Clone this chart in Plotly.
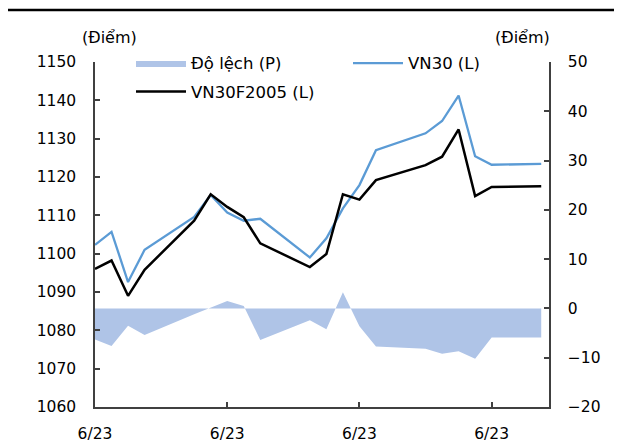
import plotly.graph_objects as go

# ---- data ----
x_idx = [0, 1, 2, 3, 6, 7, 8, 9, 10, 13, 14, 15, 16, 17, 20, 21, 22, 23, 24, 27]
vn30 = [1102.3, 1105.7, 1092.6, 1101.0, 1109.6, 1115.3, 1110.7, 1108.6, 1109.1, 1099.0,
        1104.0, 1111.8, 1117.9, 1127.0, 1131.4, 1134.6, 1141.25, 1125.4, 1123.2, 1123.4]
vn30f = [1096.0, 1098.2, 1089.0, 1095.8, 1108.6, 1115.5, 1112.2, 1109.5, 1102.7, 1096.5,
         1099.9, 1115.5, 1114.1, 1119.2, 1123.1, 1125.3, 1132.4, 1115.0, 1117.4, 1117.6]
do_lech = [-6.3, -7.6, -3.5, -5.4, -1.2, 0.2, 1.5, 0.5, -6.4, -2.4,
           -4.2, 3.3, -3.6, -7.7, -8.2, -9.2, -8.7, -10.2, -5.9, -5.9]
tick_pos = [0, 8, 16, 24]
tick_text = ["6/23", "6/23", "6/23", "6/23"]
left_ticks = [1060, 1070, 1080, 1090, 1100, 1110, 1120, 1130, 1140, 1150]
right_ticks = [-20, -10, 0, 10, 20, 30, 40, 50]

FONT = "DejaVu Sans"
AX = "#404040"

fig = go.Figure()
fig.add_trace(go.Scatter(
    x=x_idx, y=do_lech, name="Độ lệch (P)", mode="lines", fill="tozeroy",
    fillcolor="#AFC4E7", line=dict(width=0.01, color="#AFC4E7"), yaxis="y",
    legend="legend", showlegend=True))
fig.add_trace(go.Scatter(
    x=x_idx, y=vn30, name="VN30 (L)", mode="lines",
    line=dict(color="#5B9BD5", width=2.3), yaxis="y2", legend="legend2", showlegend=True))
fig.add_trace(go.Scatter(
    x=x_idx, y=vn30f, name="VN30F2005 (L)", mode="lines",
    line=dict(color="#000000", width=2.5), yaxis="y2", legend="legend3", showlegend=True))

# page body has an 8px margin: figure is drawn 8px right/down of the window corner
OFF = 8
W, H = 622 - OFF, 446 - OFF
L, R, T, B = 95 - OFF, 73, 62 - OFF, 39
pw, ph = W - L - R, H - T - B

def px_x(px):
    return (px - OFF - L) / pw

def px_y(py):
    return (H - B - (py - OFF)) / ph

leg_common = dict(font=dict(family=FONT, size=16.5, color="#000000"),
                  bgcolor="rgba(0,0,0,0)", borderwidth=0, itemwidth=50,
                  xanchor="left", yanchor="middle", visible=True)

fig.update_layout(
    width=W, height=H, showlegend=True,
    margin=dict(l=L, r=R, t=T, b=B, autoexpand=False),
    paper_bgcolor="white", plot_bgcolor="white",
    font=dict(family=FONT, size=15.5, color="#000000"),
    xaxis=dict(range=[0, 27.47], tickvals=tick_pos, ticktext=tick_text,
               showgrid=False, zeroline=False, showline=True, linecolor=AX, linewidth=1.5,
               ticks="inside", ticklen=5, tickcolor=AX, tickwidth=1.5,
               ticklabelstandoff=12, automargin=False),
    yaxis=dict(range=[-20, 50], tickvals=right_ticks, side="right",
               showgrid=False, zeroline=False, showline=True, linecolor=AX, linewidth=1.5,
               ticks="inside", ticklen=5, tickcolor=AX, tickwidth=1.5,
               ticklabelstandoff=14, automargin=False),
    yaxis2=dict(range=[1060, 1150], tickvals=left_ticks, side="left", overlaying="y",
                showgrid=False, zeroline=False, showline=True, linecolor=AX, linewidth=1.5,
                ticks="inside", ticklen=5, tickcolor=AX, tickwidth=1.5,
                ticklabelstandoff=14, automargin=False),
    legend=dict(x=px_x(131), y=px_y(63.3), **leg_common),
    legend2=dict(x=px_x(348), y=px_y(63.3), **leg_common),
    legend3=dict(x=px_x(131), y=px_y(91.7), **leg_common),
    shapes=[dict(type="line", xref="paper", yref="paper",
                 x0=px_x(4), x1=px_x(622), y0=px_y(10), y1=px_y(10),
                 line=dict(color="#000000", width=2.5))],
    annotations=[
        dict(text="(Điểm)", xref="paper", yref="paper", x=px_x(109), y=px_y(38),
             showarrow=False, xanchor="center", yanchor="middle",
             font=dict(family=FONT, size=16, color="#000000")),
        dict(text="(Điểm)", xref="paper", yref="paper", x=px_x(522), y=px_y(38),
             showarrow=False, xanchor="center", yanchor="middle",
             font=dict(family=FONT, size=16, color="#000000")),
    ],
)

fig.write_html("out.html")
